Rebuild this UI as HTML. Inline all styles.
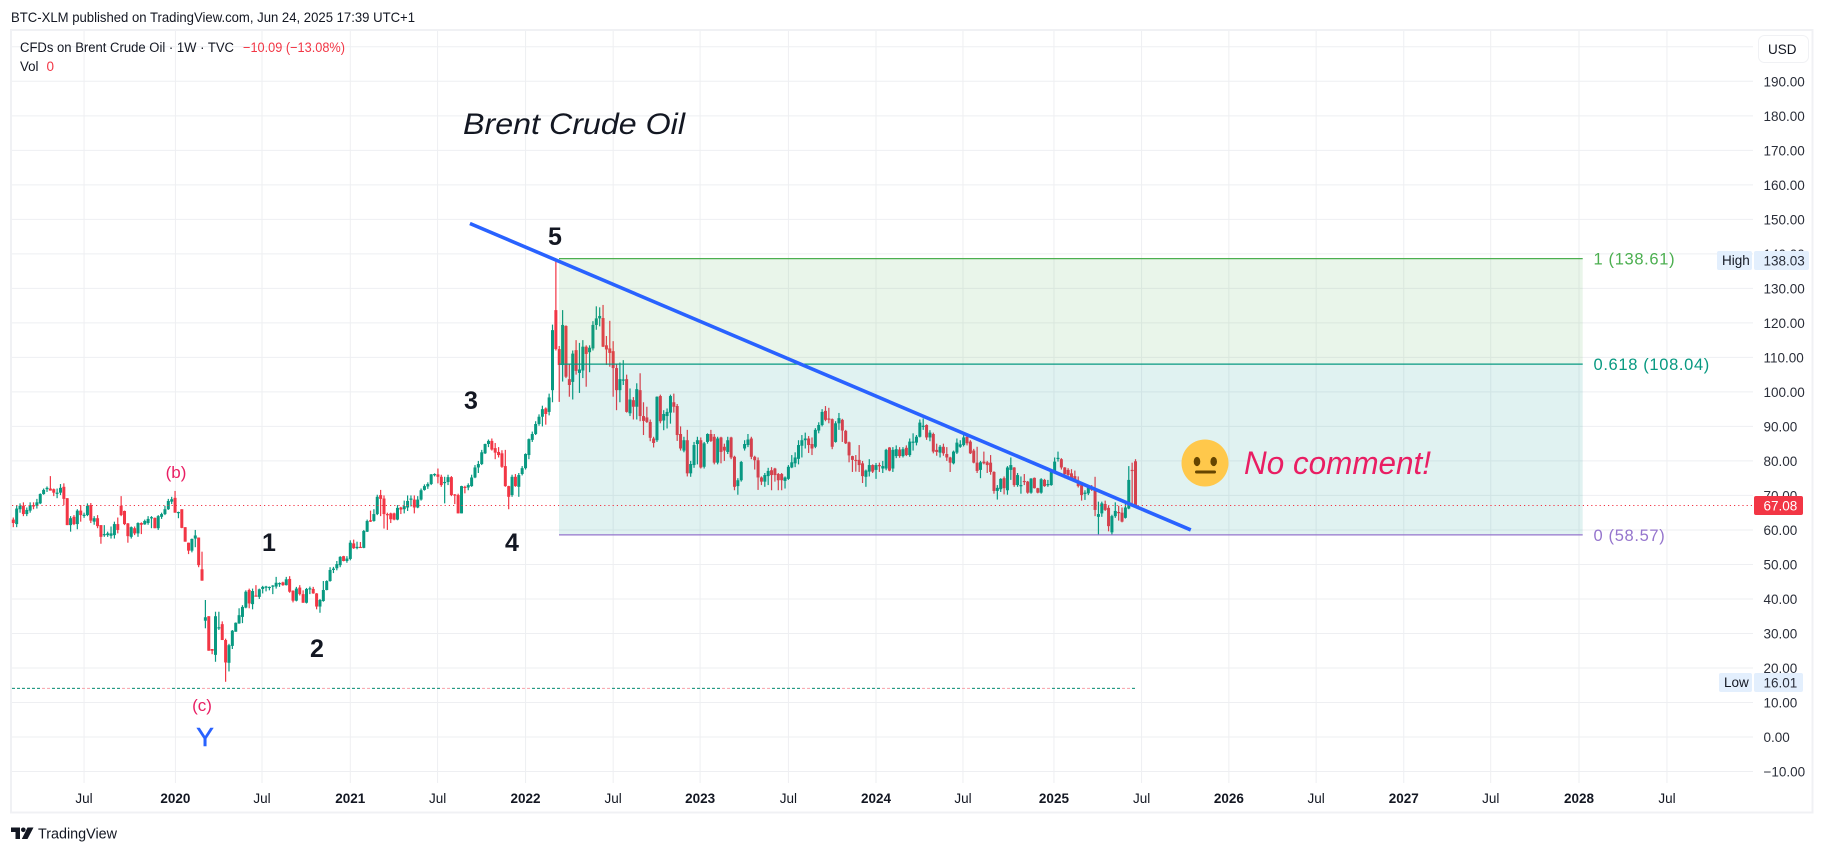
<!DOCTYPE html>
<html lang="en">
<head>
<meta charset="utf-8">
<title>Brent Crude Oil chart</title>
<style>
html,body{margin:0;padding:0;background:#fff;width:1824px;height:853px;overflow:hidden}
svg{display:block;font-family:"Liberation Sans",Arial,sans-serif}
</style>
</head>
<body>
<svg id="chart" xmlns="http://www.w3.org/2000/svg" width="1824" height="853" viewBox="0 0 1824 853">
  <rect width="1824" height="853" fill="#ffffff"/>
  <text x="11" y="22" font-size="14" fill="#131722" textLength="404" lengthAdjust="spacingAndGlyphs">BTC-XLM published on TradingView.com, Jun 24, 2025 17:39 UTC+1</text>
  <rect x="11" y="30" width="1801.5" height="782.5" fill="none" stroke="#f0f1f4" stroke-width="2"/>
  <g id="grid"></g>
  <g id="low-line"></g>
  <g id="candles"></g>
  <g id="fib"></g>
  <g id="last-line"></g>
  <g id="trend"></g>

  <text x="20" y="52" font-size="13.5" fill="#131722" textLength="214" lengthAdjust="spacingAndGlyphs">CFDs on Brent Crude Oil · 1W · TVC</text>
  <text x="243" y="52" font-size="13.5" fill="#f23645" textLength="102" lengthAdjust="spacingAndGlyphs">−10.09 (−13.08%)</text>
  <text x="20" y="71" font-size="13.5" fill="#131722" textLength="18.5" lengthAdjust="spacingAndGlyphs">Vol</text>
  <text x="46.5" y="71" font-size="13.5" fill="#f23645">0</text>

  <text x="463" y="134" font-size="30" font-style="italic" fill="#131722" textLength="222" lengthAdjust="spacingAndGlyphs">Brent Crude Oil</text>
  <text x="555" y="245" font-size="25" font-weight="bold" fill="#131722" text-anchor="middle">5</text>
  <text x="471" y="409" font-size="25" font-weight="bold" fill="#131722" text-anchor="middle">3</text>
  <text x="512" y="551" font-size="25" font-weight="bold" fill="#131722" text-anchor="middle">4</text>
  <text x="269" y="551" font-size="25" font-weight="bold" fill="#131722" text-anchor="middle">1</text>
  <text x="317" y="657" font-size="25" font-weight="bold" fill="#131722" text-anchor="middle">2</text>
  <text x="176" y="478" font-size="17" fill="#e91e63" text-anchor="middle">(b)</text>
  <text x="202" y="711" font-size="17" fill="#e91e63" text-anchor="middle">(c)</text>
  <text x="205" y="746" font-size="26" fill="#2962ff" stroke="#2962ff" stroke-width="0.6" text-anchor="middle">Y</text>

  <g>
    <circle cx="1205" cy="463" r="23.5" fill="#ffc84b"/>
    <ellipse cx="1197" cy="461.5" rx="3.3" ry="4.6" fill="#664500"/>
    <ellipse cx="1213.7" cy="461.5" rx="3.3" ry="4.6" fill="#664500"/>
    <rect x="1195" y="470.5" width="21" height="3" rx="1.5" fill="#664500"/>
  </g>
  <text x="1244" y="474" font-size="32" font-style="italic" fill="#e91e63" textLength="187" lengthAdjust="spacingAndGlyphs">No comment!</text>

  <g id="price-axis"></g>
  <g id="time-axis"></g>

  <g>
    <rect x="1717" y="251" width="35" height="19" rx="2" fill="#e3effd"/>
    <rect x="1754" y="251" width="55" height="19" rx="2" fill="#e3effd"/>
    <text x="1722" y="265" font-size="13.5" fill="#131722">High</text>
    <text x="1763.5" y="265.5" font-size="13.5" fill="#2a2e39">138.03</text>
  </g>
  <g>
    <rect x="1719" y="673" width="33" height="19" rx="2" fill="#e3effd"/>
    <rect x="1754" y="673" width="49" height="19" rx="2" fill="#e3effd"/>
    <text x="1724" y="687" font-size="13.5" fill="#131722">Low</text>
    <text x="1763.5" y="687.5" font-size="13.5" fill="#2a2e39">16.01</text>
  </g>
  <g>
    <rect x="1754" y="496" width="49" height="19" rx="2" fill="#f23645"/>
    <text x="1763.5" y="510.5" font-size="13.5" fill="#ffffff">67.08</text>
  </g>
  <g>
    <rect x="1758.5" y="35.5" width="50" height="27" rx="6" fill="#ffffff" stroke="#f0f1f4"/>
    <text x="1768" y="54" font-size="13.5" fill="#131722">USD</text>
  </g>
  <g>
    <polygon points="11,827.5 20,827.5 20,839 15.5,839 15.5,832 11,832" fill="#131722"/>
    <circle cx="23.3" cy="829.8" r="2.3" fill="#131722"/>
    <polygon points="27.5,827.5 33.5,827.5 27.5,839 21.8,839" fill="#131722"/>
    <text x="38" y="838.5" font-size="15" fill="#131722" textLength="79" lengthAdjust="spacingAndGlyphs">TradingView</text>
  </g>
</svg>
<script>
var opens=[
63,61.7,66,67,64.6,65.6,67.2,67,67.7,70.4,
71.8,72,71.8,70.5,70.8,72.5,69.2,61.4,63.8,61.7,
65.6,64.3,64.3,67.2,62.4,63.4,61.4,58.5,58.5,58.3,
58.5,61.7,67,65.5,61.9,58,60.5,59,62,61.6,
62,63.5,63.5,60.5,63.8,64.6,66,68.2,69.3,65,
66,60.8,56.3,54,57.5,57.8,48.6,33.7,35,25.5,
23.8,31.6,32.7,28.1,21.5,26.4,30.5,32.9,34.8,37.5,
42.6,38.5,41,40.6,42.9,43.4,43.3,43.7,43.6,44.3,
44.8,44,45.8,42.4,39.5,43.3,41.4,38.9,43,42.9,
41.6,37.8,39.4,42.6,45.2,48.4,48.9,49.8,52.4,51,
51.6,56.1,54.8,55.1,54.8,59.5,62.8,62.6,64.6,70.1,
69.1,64.6,64.8,64.8,63,66.5,66,66.5,69,68.8,
66.5,68.8,71.6,72.6,73.3,76,76.1,75.4,73.7,73.9,
75.3,70.3,70.1,64.8,72.5,72.3,72.7,75.2,78.1,79.1,
82.2,84.9,85.8,83.7,82.6,82.2,78.5,72.7,70.1,75.4,
72.5,76.2,77.9,81.7,86.1,87.8,90.7,92.8,95.2,94.2,
100.5,123.7,112.4,107.8,119.1,103.7,102.9,112.1,105.5,106.2,
113.1,111.5,112.6,119.4,121.3,121.4,113.5,112.6,111.8,106.9,
100.5,103.3,103.7,93.8,97.6,95.7,100.5,93,92.6,91.3,
86.5,86,98.8,91.7,93,94,97,95.9,87.8,83,
86,76.4,78.8,84.9,86,78.3,85.5,87.8,87,79.5,
86.8,84.1,82.6,86.8,81.2,72.7,74.4,83.6,84.6,86.5,
81.2,80.2,75.2,74,75.6,77.3,77.8,76.2,76.2,74.2,
74.8,78.1,79.3,80.6,84.4,86,86.5,84.9,84.1,88.8,
90.4,94.5,92.3,92.1,85.5,90.9,91.9,88.7,85.4,81.4,
80.3,80.3,79.3,75.4,76.9,78.8,77.4,78.8,77.8,77.8,
83.9,77.8,81.4,83.3,81.4,83.8,81.7,85.4,85.3,87,
90,90.4,86.8,87.8,83.2,82.4,84.1,82,81,79.3,
82.4,84.1,84.6,87,85.6,83,79.5,77.4,79.8,79.6,
79.5,76.8,71.3,71.8,75,71.5,77.4,78.1,73,72.9,
74.2,74,70.8,75.1,72.1,70.8,74.5,73,73,76.9,
80.8,80.5,78.1,77.4,76.4,75.6,74.3,73,70.7,70.6,
72.1,71.6,63.8,64.8,67.5,66.4,59.3,64,65.2,65,
63.5,66.2,77.4,79.9];
var highs=[
63.6,67.2,67.7,68,66.5,68,68,69,70.6,72,
72.6,75.6,72,72,73.3,73.5,69.2,64,64.3,66,
67.2,65,67.7,67.8,64,64.3,61.4,61.4,59.5,61,
62.4,63.6,69.8,65.6,62,61,61,62.2,62.2,63,
64,64,63.6,64.3,65,67,69,69.6,71.3,65.3,
66,60.8,56.3,57.5,60,57.8,53.7,39.7,35,25.5,
36.3,36.3,33.5,28.5,27,31,33.2,37.3,38.2,42.5,
43,43,44,43,43.8,43.8,43.6,44,46.4,44.8,
45,46.4,46.6,42.5,43.5,44,42.5,43.2,43.6,43.5,
41.7,40,45.2,45.4,49.2,49.3,51,52.4,52.5,52.4,
57,57.2,56.6,56.5,60,63,65.6,66,70.2,71.6,
70,65,65,65,67.2,66.7,68.5,70,70,70,
69.8,72,73.2,73.8,76.2,76.4,77.8,76,75.4,76,
75.6,70.4,70.5,72.8,72.8,73.5,76,78.8,80,83.2,
85,86.2,86.5,85.2,84,83.1,83.2,72.8,76,76.2,
76.5,78.5,82.2,86.5,88.5,91.5,93.5,96,95.5,99.5,
119.5,138,113.3,123.7,119.3,108,112,115,114.2,115,
113.5,113.5,120.5,124.8,124.5,125.2,116.2,120.6,114.7,108,
108.5,109.2,105,101,98.5,102.5,105.4,97,95.7,92,
87,98.7,99.2,94.7,95.2,99.2,99.5,96.5,90,87,
89,80,85.5,87,86.8,85.5,88,89,87.8,87,
87,85,87,87,81.5,75,80,86,87.8,87,
81.5,81,75.5,76.5,78,78.2,78,76.5,76.5,75.5,
78.8,81.7,82.5,86,87.5,88.2,87.2,86.8,89.5,91.2,
95,95.9,95.4,92.3,91.5,93.9,92.2,89,85.6,81.5,
81.7,84.6,80,77.5,80.5,79,79.4,79.5,80,83.5,
84,84,84.5,84,84,84.5,86.5,88,87.5,92,
92.3,90.6,88.9,88.2,85,84.6,85,84,81.2,83,
86.5,86,87.5,87.5,86,83.5,84.1,80,82.7,80,
81.7,77,73,75,75.5,78.5,81,78.2,76.5,75.5,
76.2,74.2,75,75.2,72.2,75,74.8,74.5,77.5,81,
82.7,80.8,78.2,77.9,77.6,77.2,75.5,73.1,71.5,73,
73,75.4,68.2,68.2,68.5,67,64.4,68,67,66.5,
67.5,78.5,79.5,80.5];
var lows=[
60.8,60.8,65,64,64,65,66,66.2,67.5,70.2,
71,71.4,69.8,69.2,70.1,67.2,61.4,59.5,61.4,60.2,
62.4,63.5,64,62,61.5,60.5,56,58,58,57.5,
57.5,59,64,61.4,56.3,57.5,58.5,58,58.8,61.5,
61.5,60.5,60.5,60,63.2,64.3,65.8,67.5,65,63.4,
60.5,56.6,53,53.5,55,49.2,45.3,31.5,25,24,
21.8,31,28.1,16,19,25.5,30.5,32.8,33,37.3,
37.3,37,40.7,40,41.6,42.2,42.5,41.4,43,43.5,
43.8,43.9,41.8,39,39.3,41,38.9,38.7,41.4,41.5,
37,36,39.2,42.5,45,47.5,48.3,49.2,50.9,50.5,
51.2,54.5,54.4,54.8,54.7,59.4,62.3,62.4,64.3,64,
60.4,60,62,62.8,62.8,64.6,64.8,65.5,66.8,64.8,
66.3,68.5,71.4,71.9,73,75.5,73.5,72.5,67.7,73,
69.8,67.5,64.8,64.8,70.6,71.5,72.5,75,76.5,78.8,
82,84,83,80.5,81,78,72.5,66,69.6,72.5,
69.6,75.8,77.5,80.5,85.5,87.5,90.2,90,90.5,93.2,
97,112,97.1,103,104,98.6,97.8,105,99.7,104,
101.5,105.7,112,118,119,113,107.8,107.3,98.6,94.7,
97,102,94,93,92,92,91.5,87.5,91,85.7,
83.9,85.5,90.9,88.9,89.4,90.8,94,85.8,83,82.5,
75.5,75.4,78,79,77.8,77.8,85,85.5,79,79,
79.3,80,82,80.5,71.5,70.2,74,83,84,80.5,
77.5,71.6,73,72.5,73,71.5,74,71.5,71.5,72,
74.5,77.9,78.2,79,81,83.6,82.3,81.7,83.7,88,
90,91.5,90.9,83.4,85.3,89,85.5,84.9,79.6,76.8,
76.9,76.8,73.6,72.5,75.5,76.5,74.8,76.8,76.5,77.3,
77,76.8,80.8,80.9,81,81.4,81.2,83,84.5,86.8,
89,86.1,85.7,82.2,81.5,81,81.5,80,76.8,79,
82,83.8,84.2,84.5,82,79.3,76.5,75,79,76.5,
76,70.5,68.8,71,70.3,70.2,74.5,72.5,72.5,70.5,
73,70.5,70.5,72,70.6,70.5,72.5,72.5,72.8,76.5,
79.8,77.5,75,75.2,74.6,74,72.3,68.5,68.7,70.1,
71.3,64,58.5,63.8,65.5,59.6,58.5,63.5,62.7,62.2,
63.3,66,66.7,67.08];
var closes=[
62,66.2,67,64.6,65.8,67.2,66.8,68,70.4,71.6,
72.2,71.4,70.8,70.8,72.2,69,61.4,63.4,61.7,65.6,
64.3,64.4,67,62.7,63.4,61.1,58,58.8,59,59,
61.7,60,64.3,61.7,58.2,60.8,59,62,61.5,62.6,
63.2,63.7,60.5,64,64.6,66,68.4,68.9,65,65.2,
60.6,56.6,54,57.4,58.4,49.8,45.3,34.7,25,25,
35,31.8,28.1,21.6,26.6,30.8,33.1,35.3,37.7,42.1,
38.7,42.3,40.8,42.8,43.5,43.6,43.5,43.9,44.7,44.6,
44,45.7,42.1,39.5,43,41.4,38.9,42.9,43.1,41.6,
37.8,39.7,42.6,45.2,48.4,48.8,50.1,52.2,51,51.7,
56.3,54.7,55.1,55,59.7,62.6,62.4,64.6,69.6,69,
64.6,64.3,63.1,63,66.4,65.9,66.9,68.4,69.1,66.5,
68.8,71.5,72.7,73.3,76.1,76.2,75.4,73,73.9,75.3,
70.1,70,64.8,72.7,72.3,73,75.2,78.1,79.1,82.5,
84.9,85.8,83.3,82.4,81.7,78.3,72.7,69.6,75.4,72.7,
75.9,77.9,82,86.3,87.8,90.7,92.8,95,93.6,98.4,
117.9,112.4,107.8,119.4,104.4,102,111.1,106.1,106.5,113.1,
111,112.8,119.4,121.3,122,113.1,112.3,111.3,106.9,100.5,
103.7,103.6,94.2,97.8,95.7,100.8,93,91.6,91.3,86.7,
85.2,98.6,91.5,93.6,94.2,98.8,95.7,87.5,83.6,86,
76.4,79.1,84.6,86,78.1,85.1,87.8,85.8,79.5,86.5,
82.6,83,86,81,72.5,74.4,79.7,84.9,86.2,81.2,
80.2,75.2,74,75.9,77.1,75.9,75.9,74.4,74.4,75.2,
78.3,79.6,81,84.6,86,86.5,84.6,83.6,89,90.4,
94.2,91.9,92.1,84.1,90.9,92.4,88.8,85.1,81.6,80.3,
80,78.8,75.6,77.2,78.8,76.9,78.8,78.5,78.5,83.2,
77.2,83.2,83.4,81.4,83.4,81.7,85.6,85.6,87,91.1,
90.2,86.8,88.2,82.7,82.6,84.1,82.2,81,79.5,82.7,
85.3,84.8,86.8,85.1,82.2,79.5,77.1,79.6,79.3,78.8,
76.8,71.3,72.2,74.8,72.1,78.1,78.8,73,75.9,73,
73.9,70.8,74.9,72.1,70.8,74.7,72.7,73.3,77.2,79.8,
80.9,78.1,76.2,75.9,75,74.3,72.7,70.1,70.8,72.3,
71.6,65.8,64.6,67.7,65.8,61.1,64,65.5,65,62.4,
66.5,74.5,77.2,67.08];

var priceTicks=[200,190,180,170,160,150,140,130,120,110,100,90,80,70,60,50,40,30,20,10,0,-10];
var timeTickLabels=['Jul','2020','Jul','2021','Jul','2022','Jul','2023','Jul','2024','Jul','2025','Jul','2026','Jul','2027','Jul','2028','Jul'];
var timeTickBars=[21,48.1,73.8,100,125.9,152,178,203.8,230,256,281.8,308.8,334.8,360.7,386.6,412.6,438.4,464.6,490.7];
var fibLevelNames=['1 (138.61)','0.618 (108.04)','0 (58.57)'];
var fibLevelPrices=[138.61,108.04,58.57];
var lastPrice=67.08;
var lowLinePrice=14.1;
var trendBars=[135.5,349.4];
var trendPrices=[148.8,60];

function xOf(bar){return 13.3+3.37*bar;}
function yOf(price){return 737-3.451*price;}

var NS='http://www.w3.org/2000/svg';
function mk(parent,tag,attrs,text){
  var el=document.createElementNS(NS,tag);
  for(var k in attrs){el.setAttribute(k,attrs[k]);}
  if(text!==undefined){el.textContent=text;}
  parent.appendChild(el);
  return el;
}

var grid=document.getElementById('grid');
var priceAxis=document.getElementById('price-axis');
var timeAxis=document.getElementById('time-axis');
priceTicks.forEach(function(p){
  var y=yOf(p);
  var line=mk(grid,'line',{x1:12,x2:1753,y1:y,y2:y,stroke:'#eeeff2','stroke-width':1});
  
  
  if(p<200){
    var label=(p<0?'\u2212':'')+Math.abs(p).toFixed(2);
    var t=mk(priceAxis,'text',{x:1763.5,y:y+5,'font-size':13.5,fill:'#2a2e39'},label);
    
    
  }
});
timeTickBars.forEach(function(b,i){
  var x=xOf(b);
  var line=mk(grid,'line',{x1:x,x2:x,y1:31,y2:783,stroke:'#eeeff2','stroke-width':1});
  
  
  var isYear=timeTickLabels[i]!=='Jul';
  var t=mk(timeAxis,'text',{x:x,y:803,'font-size':13.5,'font-weight':isYear?'bold':'normal',fill:'#131722','text-anchor':'middle'},timeTickLabels[i]);
  
  
});

var lowG=document.getElementById('low-line');
var lowEndX=xOf(opens.length-1);
var lowPink=mk(lowG,'line',{x1:12,x2:lowEndX,y1:yOf(lowLinePrice),y2:yOf(lowLinePrice),stroke:'#f7a1a8','stroke-width':1,'stroke-dasharray':'3 2'});


var lowTeal=mk(lowG,'line',{x1:12,x2:lowEndX,y1:yOf(lowLinePrice),y2:yOf(lowLinePrice),stroke:'#089981','stroke-width':1,'stroke-dasharray':'3 2 3 2 3 2 3 2 3 2 3 12'});



var candleG=document.getElementById('candles');
opens.forEach(function(o,i){
  var c=closes[i];
  var col=c<o?'#f23645':'#089981';
  var x=xOf(i);
  var g=mk(candleG,'g',{fill:col});
  
  
  mk(g,'rect',{x:x-0.6,y:yOf(highs[i]),width:1.2,height:Math.max(0.5,yOf(lows[i])-yOf(highs[i]))});
  var top=yOf(Math.max(o,c));
  var h=Math.max(1.2,Math.abs(yOf(o)-yOf(c)));
  mk(g,'rect',{x:x-1.5,y:top,width:3,height:h});
});

var fibG=document.getElementById('fib');
var fibX1=559,fibX2=1582.7;
var fibFills=['rgba(76,175,80,0.12)','rgba(0,150,136,0.12)'];
var fibColors=['#4caf50','#089981','#9575cd'];
for(var f=0;f<2;f++){
  var band=mk(fibG,'rect',{x:fibX1,y:yOf(fibLevelPrices[f]),width:fibX2-fibX1,height:yOf(fibLevelPrices[f+1])-yOf(fibLevelPrices[f]),fill:fibFills[f]});
  
  
}
fibLevelPrices.forEach(function(p,i){
  var y=yOf(p);
  var l=mk(fibG,'line',{x1:fibX1,x2:fibX2,y1:y,y2:y,stroke:fibColors[i],'stroke-width':1.2});
  
  
  var t=mk(fibG,'text',{x:1593.5,y:y+6,'font-size':16.5,'letter-spacing':0.65,fill:fibColors[i]},fibLevelNames[i]);
  
  
});

var lastG=document.getElementById('last-line');
var lastLn=mk(lastG,'line',{x1:12,x2:1753,y1:yOf(lastPrice),y2:yOf(lastPrice),stroke:'#f23645','stroke-width':1,'stroke-dasharray':'1.2 3'});



var trendG=document.getElementById('trend');
var tl=mk(trendG,'line',{x1:xOf(trendBars[0]),y1:yOf(trendPrices[0]),x2:xOf(trendBars[1]),y2:yOf(trendPrices[1]),stroke:'#2962ff','stroke-width':3.6});


</script>
</body>
</html>
